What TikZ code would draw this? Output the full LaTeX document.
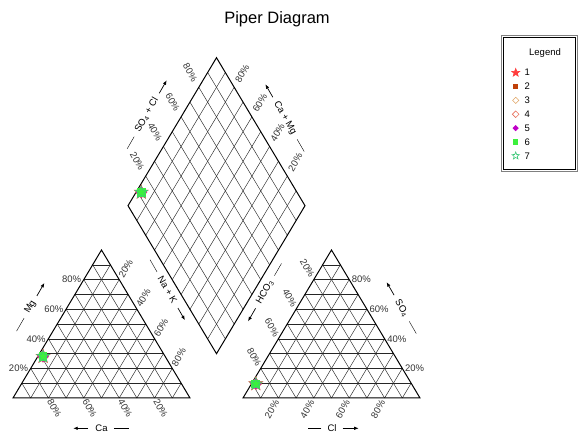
\documentclass[tikz,border=0pt]{standalone}
\usepackage{fontspec}
\setmainfont{Liberation Sans}
\usetikzlibrary{calc,shapes.geometric,arrows.meta}

\definecolor{mkred}{HTML}{FF3C3C}
\definecolor{mkbrown}{HTML}{C04008}
\definecolor{mktan}{HTML}{E0A464}
\definecolor{mksalmon}{HTML}{E8705C}
\definecolor{mkpurple}{HTML}{C000C8}
\definecolor{mkgreen}{HTML}{3CF03C}
\definecolor{mkmint}{HTML}{3CC878}

\tikzset{
	mk/.style={inner sep=0pt, line width=0.6pt},
	mk1/.style={mk, star, star points=5, star point ratio=2.4, minimum size=1.3*\mks, fill=mkred, draw=mkred},
	mk2/.style={mk, rectangle, minimum size=0.8*\mks, fill=mkbrown},
	mk3/.style={mk, diamond, minimum size=\mks, draw=mktan},
	mk4/.style={mk, diamond, minimum size=1.05*\mks, draw=mksalmon},
	mk5/.style={mk, diamond, minimum size=\mks, fill=mkpurple},
	mk6/.style={mk, rectangle, minimum size=0.8*\mks, fill=mkgreen},
	mk7/.style={mk, star, star points=5, star point ratio=2.4, minimum size=1.2*\mks, draw=mkmint}
}

\begin{document}
\begin{tikzpicture}[x=1pt, y=1pt,
	outline/.style={line width=1pt, line join=miter},
	gridline/.style={line width=0.45pt, black!85},
	pct/.style={font=\fontsize{9.5}{11}\selectfont, inner sep=0.5pt, text=black!80},
	axis/.style={font=\fontsize{9.5}{11}\selectfont, inner sep=1pt},
	axisarrow/.style={-{Latex[length=4.5pt, width=3.5pt]}, line width=0.7pt}
	]
	\useasboundingbox (0,0) rectangle (578,436);
	% corners of the three plots
	\coordinate (ca) at (13,38);
	\coordinate (na) at (190,38);
	\coordinate (mg) at (101.5,186);
	\coordinate (hco) at (243,38);
	\coordinate (cl) at (420,38);
	\coordinate (so) at (331.5,186);
	\coordinate (db) at (216.5,82.3);
	\coordinate (dl) at (128,230.3);
	\coordinate (dr) at (305,230.3);
	\coordinate (dt) at (216.5,378.3);
	% grids
	\foreach \i in {1,...,9}
	{
		% cations
		\draw[gridline] ($(ca)!\i/10!(mg)$) -- ($(na)!\i/10!(mg)$);
		\draw[gridline] ($(ca)!\i/10!(na)$) -- ($(ca)!\i/10!(mg)$);
		\draw[gridline] ($(na)!\i/10!(ca)$) -- ($(na)!\i/10!(mg)$);
		% anions
		\draw[gridline] ($(hco)!\i/10!(so)$) -- ($(cl)!\i/10!(so)$);
		\draw[gridline] ($(hco)!\i/10!(cl)$) -- ($(hco)!\i/10!(so)$);
		\draw[gridline] ($(cl)!\i/10!(hco)$) -- ($(cl)!\i/10!(so)$);
		% diamond
		\draw[gridline] ($(db)!\i/10!(dl)$) -- ($(dr)!\i/10!(dt)$);
		\draw[gridline] ($(db)!\i/10!(dr)$) -- ($(dl)!\i/10!(dt)$);
	}
	% outlines
	\draw[outline] (ca) -- (na) -- (mg) -- cycle;
	\draw[outline] (hco) -- (cl) -- (so) -- cycle;
	\draw[outline] (db) -- (dr) -- (dt) -- (dl) -- cycle;
	% percentages
	\foreach \p in {20,40,60,80}
	{
		\node[pct, anchor=east, xshift=-2pt] (mgpct\p) at ($(ca)!\p/100!(mg)$) {\p\%};
		\path ($(na)!\p/100!(ca)$) ++(300:12) node[pct, rotate=-60] (capct\p) {\p\%};
		\path ($(mg)!\p/100!(na)$) ++(60:13) node[pct, rotate=60] (napct\p) {\p\%};
		\path ($(so)!\p/100!(hco)$) ++(120:13) node[pct, rotate=-60] (hcopct\p) {\p\%};
		\path ($(hco)!\p/100!(cl)$) ++(240:13) node[pct, rotate=60] (clpct\p) {\p\%};
		\node[pct, anchor=west, xshift=2pt] (sopct\p) at ($(cl)!\p/100!(so)$) {\p\%};
		\path ($(dl)!\p/100!(dt)$) ++(120:17) node[pct, rotate=-60] (socpct\p) {\p\%};
		\path ($(dr)!\p/100!(dt)$) ++(60:16) node[pct, rotate=60] (campct\p) {\p\%};
	}
	% axis names
	\node[axis, rotate=60] (mglbl) at (30.5,129) {Mg};
	\draw ([shift={(240:5)}]mglbl.west) -- ++(240:15);
	\draw[axisarrow] ([shift={(60:5)}]mglbl.east) -- ++(60:15);
	\node[axis] (calbl) at (101.5,7.7) {Ca};
	\draw[axisarrow] ([xshift=-6pt]calbl.west) -- ++(-15,0);
	\draw ([xshift=5pt]calbl.east) -- ++(15,0);
	\node[axis, rotate=-60] (nalbl) at (167.5,146) {Na + K};
	\draw ([shift={(120:5)}]nalbl.west) -- ++(120:14);
	\draw[axisarrow] ([shift={(300:5)}]nalbl.east) -- ++(300:14);
	\node[axis, rotate=60] (hcolbl) at (265,144) {HCO\textsubscript{3}};
	\draw[axisarrow] ([shift={(240:5)}]hcolbl.west) -- ++(240:15);
	\draw ([shift={(60:5)}]hcolbl.east) -- ++(60:14);
	\node[axis] (cllbl) at (332,7.7) {Cl};
	\draw ([xshift=-5pt]cllbl.west) -- ++(-13,0);
	\draw[axisarrow] ([xshift=5pt]cllbl.east) -- ++(16,0);
	\node[axis, rotate=-60] (solbl) at (401.7,127.7) {SO\textsubscript{4}};
	\draw[axisarrow] ([shift={(120:5)}]solbl.west) -- ++(120:15);
	\draw ([shift={(300:5)}]solbl.east) -- ++(300:14);
	\node[axis, rotate=60] (soclbl) at (146.7,321) {SO\textsubscript{4} + Cl};
	\draw ([shift={(240:5)}]soclbl.west) -- ++(240:14);
	\draw[axisarrow] ([shift={(60:5)}]soclbl.east) -- ++(60:15);
	\node[axis, rotate=-60] (camlbl) at (285,317.7) {Ca + Mg};
	\draw[axisarrow] ([shift={(120:5)}]camlbl.west) -- ++(120:15);
	\draw ([shift={(300:5)}]camlbl.east) -- ++(300:14);
	% samples
	\def\mks{11pt}
	\foreach \i in {1,...,7}
	{
		\node[mk\i] (cat\i) at (barycentric cs:ca=0.69,mg=0.28,na=0.03) {};
		\node[mk\i] (ani\i) at (barycentric cs:hco=0.88,so=0.095,cl=0.025) {};
		\node[mk\i] (dia\i) at (barycentric cs:db=-0.09,dr=0.12,dl=0.97) {};
	}
	% title
	\node[font=\fontsize{16.5}{19}\selectfont] (title) at (277,417) {Piper Diagram};
	% legend
	\draw[black!50, line width=0.6pt] (501,264.3) rectangle (577.5,401);
	\draw[black, line width=0.8pt] (503.3,266.7) rectangle (575.7,398.7);
	\node[axis] (legendtitle) at (545,383.3) {Legend};
	\def\mks{6.5pt}
	\foreach \i in {1,...,7}
	{
		\node[mk\i] (key\i) at (515.7,{363.3-13.85*(\i-1)}) {};
		\node[axis, anchor=west] (keytext\i) at (523.5,{363.3-13.85*(\i-1)}) {\i};
	}
\end{tikzpicture}
\end{document}
